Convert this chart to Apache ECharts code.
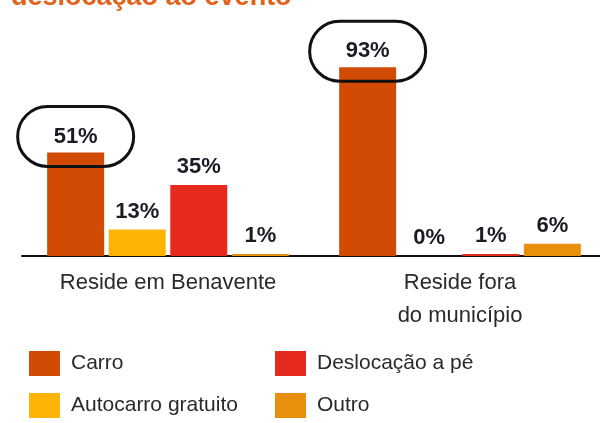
<!DOCTYPE html>
<html>
<head>
<meta charset="utf-8">
<script src="https://cdn.jsdelivr.net/npm/echarts@6/dist/echarts.min.js"></script>
<style>html,body{margin:0;padding:0;background:#fff;overflow:hidden;width:600px;height:423px}#c{width:606px;height:423px}</style>
</head>
<body>
<div id="c"></div>
<script>
var titleText = 'deslocação ao evento';
var categories = ['Reside em Benavente', 'Reside fora\ndo município'];
var seriesNames = ['Carro', 'Autocarro gratuito', 'Deslocação a pé', 'Outro'];
var carro = [51, 93];
var autocarro = [13, 0];
var deslocacao = [35, 1];
var outro = [1, 6];
var colors = ['#D24B05', '#FDB406', '#E62A1E', '#E8900E'];

var font = 'Liberation Sans, Arial, sans-serif';
var valueLabel = {
  show: true, position: 'top', distance: 7,
  formatter: '{c}%', fontFamily: font, fontSize: 22, fontWeight: 'bold', color: '#1b1b25'
};
var circledLabel = {
  show: true, position: 'top', distance: -14,
  formatter: '{c}%', fontFamily: font, fontSize: 22, fontWeight: 'bold', color: '#1b1b25',
  borderColor: '#111', borderWidth: 3, borderRadius: 30, padding: [19, 36]
};
function mk(name, data, idx, label) {
  return { name: name, type: 'bar', data: data, barWidth: 57, barGap: '8%', barCategoryGap: '18%',
    itemStyle: { color: colors[idx] }, label: label, z: label === circledLabel ? 3 : 2 };
}
function lg(name, left, top) {
  return { data: [name], left: left, top: top, itemWidth: 31, itemHeight: 25, icon: 'rect',
    textStyle: { fontFamily: font, fontSize: 21, color: '#2a2a2a', padding: [0, 0, 0, 6] } };
}
var chart = echarts.init(document.getElementById('c'), null, { renderer: 'canvas' });
chart.setOption({
  animation: false,
  backgroundColor: '#fff',
  title: { text: titleText, left: 6, top: -21,
    textStyle: { fontFamily: font, fontSize: 27, fontWeight: 'bold', color: '#E2621C' } },
  grid: { left: 22, right: 0, top: 53, bottom: 167, containLabel: false },
  xAxis: { type: 'category', data: categories,
    axisLine: { lineStyle: { color: '#111', width: 2 } },
    axisTick: { show: false },
    axisLabel: { fontFamily: font, fontSize: 22, color: '#2a2a2a', lineHeight: 33, margin: 10 } },
  yAxis: { type: 'value', min: 0, max: 100, show: false },
  legend: [
    lg(seriesNames[0], 24, 346),
    lg(seriesNames[1], 24, 388),
    lg(seriesNames[2], 270, 346),
    lg(seriesNames[3], 270, 388)
  ],
  series: [
    mk(seriesNames[0], carro, 0, circledLabel),
    mk(seriesNames[1], autocarro, 1, valueLabel),
    mk(seriesNames[2], deslocacao, 2, valueLabel),
    mk(seriesNames[3], outro, 3, valueLabel)
  ]
});
</script>
</body>
</html>
